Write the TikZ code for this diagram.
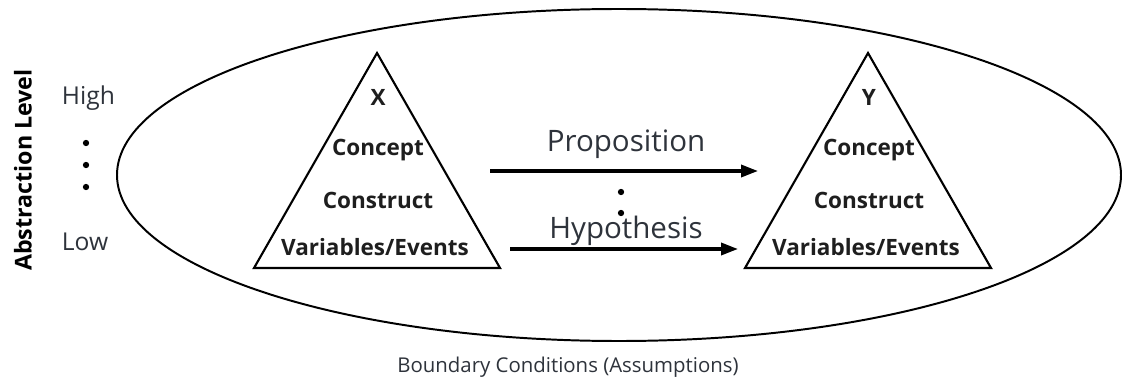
\documentclass[tikz,border=0pt]{standalone}
\usepackage{fontspec}
\setmainfont{Open Sans}
\usetikzlibrary{arrows.meta}

\definecolor{labelgray}{HTML}{2E333B}
\definecolor{tritext}{HTML}{1E1E1E}

\tikzset{
  pyr/.style={draw, line width=1.5pt, line join=miter},
  lvl/.style={font=\bfseries\fontsize{16}{19}\selectfont, text=tritext, anchor=base},
  rel/.style={font=\fontsize{21}{25}\selectfont, text=labelgray, anchor=base},
  side/.style={font=\fontsize{17.5}{20}\selectfont, text=labelgray, anchor=base west},
  link/.style={line width=2.4pt, -{Triangle[length=12pt,width=8.5pt]}},
  dot/.style={circle, fill=black, inner sep=0pt, minimum size=4.5pt},
}

\begin{document}
\begin{tikzpicture}[x=0.025cm, y=-0.025cm]
	\useasboundingbox (0,0) rectangle (1122,380);

	% boundary
	\draw[line width=1.4pt] (619,175) ellipse [x radius=502, y radius=166];
	\node (bound) [font=\fontsize{14.5}{17}\selectfont, text=labelgray, anchor=base] at (568,372) {Boundary Conditions (Assumptions)};

	% abstraction scale
	\node (abs) [font=\bfseries\fontsize{16.5}{19}\selectfont, rotate=90] at (23,170) {Abstraction Level};
	\node (high) [side] at (57,105) {High};
	\node (low) [side] at (57,250) {Low};
	\node (d1) [dot] at (86,143) {};
	\node (d2) [dot] at (86,165) {};
	\node (d3) [dot] at (86,187) {};

	% pyramid X
	\draw[pyr] (377,53) -- (500,268) -- (254,268) -- cycle;
	\node (xname) [lvl] at (378,106) {X};
	\node (xconcept) [lvl] at (378,155) {Concept};
	\node (xconstruct) [lvl] at (378,208) {Construct};
	\node (xvar) [lvl] at (375,255) {Variables/Events};

	% pyramid Y
	\draw[pyr] (868,53) -- (991,268) -- (745,268) -- cycle;
	\node (yname) [lvl] at (869,106) {Y};
	\node (yconcept) [lvl] at (869,155) {Concept};
	\node (yconstruct) [lvl] at (869,208) {Construct};
	\node (yvar) [lvl] at (866,255) {Variables/Events};

	% relations
	\coordinate (propA) at (490,171);
	\coordinate (propB) at (758,171);
	\coordinate (hypA) at (510,249);
	\coordinate (hypB) at (738,249);
	\draw[link] (propA) -- (propB);
	\draw[link] (hypA) -- (hypB);
	\node (prop) [rel] at (626,151) {Proposition};
	\node (hyp) [rel] at (626,238) {Hypothesis};
	\node (m1) [dot] at (621,192) {};
	\node (m2) [dot] at (621,213) {};
\end{tikzpicture}
\end{document}
